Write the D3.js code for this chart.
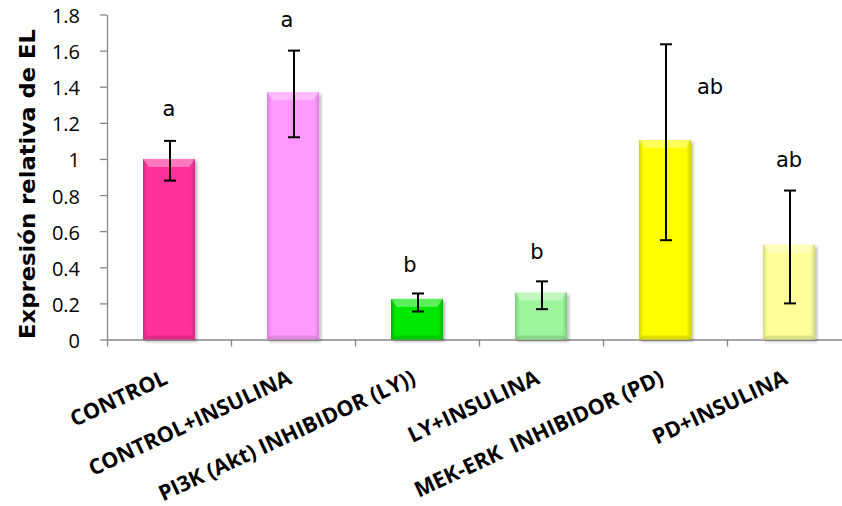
<!DOCTYPE html>
<html>
<head>
<meta charset="utf-8">
<script src="https://cdn.jsdelivr.net/npm/d3@7"></script>
<style>
  html, body { margin: 0; padding: 0; background: #fff; }
  svg { display: block; }
</style>
</head>
<body>
<svg id="chart" width="842" height="506"></svg>
<script>
const categories = ["CONTROL", "CONTROL+INSULINA", "PI3K (Akt) INHIBIDOR (LY))", "LY+INSULINA", "MEK-ERK  INHIBIDOR (PD)", "PD+INSULINA"];
const values = [1.0, 1.37, 0.225, 0.26, 1.105, 0.525];
const errLow = [0.88, 1.12, 0.155, 0.168, 0.55, 0.2];
const errHigh = [1.1, 1.6, 0.255, 0.322, 1.635, 0.825];
const letters = ["a", "a", "b", "b", "ab", "ab"];
const colors = ["#FF3399", "#FF99FF", "#00E800", "#9EF59E", "#FFFF00", "#FFFF99"];
const edgeColors = ["#D62A82", "#DA82DA", "#00B400", "#7CCC7C", "#D4D400", "#D6D67E"];
const yTicks = [0, 0.2, 0.4, 0.6, 0.8, 1, 1.2, 1.4, 1.6, 1.8];
const yTitle = "Expresión relativa de EL";

const svg = d3.select("#chart");
const x0 = 107, x1 = 851, yTop = 14.5, yBot = 339.5;

const y = d3.scaleLinear().domain([0, 1.8]).range([yBot, yTop]);
const xb = d3.scaleBand().domain(categories).range([x0, x1]).paddingInner(0.58).paddingOuter(0.29);
const xEdge = d3.scaleLinear().domain([0, categories.length]).range([x0, x1]);

const defs = svg.append("defs");
const f = defs.append("filter").attr("id", "shadow").attr("x", "-20%").attr("y", "-20%").attr("width", "150%").attr("height", "150%");
f.append("feDropShadow").attr("dx", 2).attr("dy", 2).attr("stdDeviation", 1.5).attr("flood-color", "#000").attr("flood-opacity", 0.3);

categories.forEach((c, i) => {
  const g = defs.append("linearGradient").attr("id", "grad" + i).attr("x1", "0%").attr("x2", "100%").attr("y1", "0%").attr("y2", "0%");
  g.append("stop").attr("offset", "0%").attr("stop-color", edgeColors[i]);
  g.append("stop").attr("offset", "9%").attr("stop-color", colors[i]);
  g.append("stop").attr("offset", "91%").attr("stop-color", colors[i]);
  g.append("stop").attr("offset", "100%").attr("stop-color", edgeColors[i]);
});

// Y axis
const yAxis = d3.axisLeft(y).tickValues(yTicks).tickFormat(d => d3.format("")(+d.toFixed(1))).tickSizeInner(7).tickSizeOuter(0).tickPadding(20);
const gy = svg.append("g").attr("transform", `translate(${x0},0)`).call(yAxis);
gy.select(".domain").attr("stroke", "#888").attr("stroke-width", 1.3);
gy.selectAll(".tick line").attr("stroke", "#888").attr("stroke-width", 1.3);
gy.selectAll(".tick text").attr("font-family", "'Open Sans', sans-serif").attr("font-size", 20).attr("fill", "#000").attr("dy", "0.4em");

// X axis (ticks at category boundaries)
const xAxis = d3.axisBottom(xEdge).tickValues(d3.range(categories.length + 1)).tickFormat("").tickSizeInner(7).tickSizeOuter(0);
const gx = svg.append("g").attr("transform", `translate(0,${yBot})`).call(xAxis);
gx.select(".domain").attr("stroke", "#888").attr("stroke-width", 1.3);
gx.selectAll(".tick line").attr("stroke", "#888").attr("stroke-width", 1.3);

// Bars
const bars = svg.append("g");
categories.forEach((c, i) => {
  const bx = xb(c), bw = xb.bandwidth(), by = y(values[i]), bh = y(0) - y(values[i]);
  bars.append("rect").attr("x", bx).attr("y", by).attr("width", bw).attr("height", bh)
    .attr("fill", `url(#grad${i})`).attr("filter", "url(#shadow)");
  const bev = Math.min(8, bh / 3);
  bars.append("path")
    .attr("d", `M${bx},${by}L${bx + bw},${by}L${bx + bw - 6},${by + bev}L${bx + 6},${by + bev}Z`)
    .attr("fill", "#fff").attr("opacity", 0.35);
  bars.append("path")
    .attr("d", `M${bx},${by + bh}L${bx + bw},${by + bh}L${bx + bw - 4},${by + bh - 4}L${bx + 4},${by + bh - 4}Z`)
    .attr("fill", "#000").attr("opacity", 0.12);
});

// Error bars
const eg = svg.append("g").attr("stroke", "#000").attr("stroke-width", 2);
categories.forEach((c, i) => {
  const cx = xb(c) + xb.bandwidth() / 2 + 1;
  eg.append("line").attr("x1", cx).attr("x2", cx).attr("y1", y(errLow[i])).attr("y2", y(errHigh[i]));
  eg.append("line").attr("x1", cx - 6).attr("x2", cx + 6).attr("y1", y(errLow[i])).attr("y2", y(errLow[i]));
  eg.append("line").attr("x1", cx - 6).attr("x2", cx + 6).attr("y1", y(errHigh[i])).attr("y2", y(errHigh[i]));
});

// Significance letters
const letterPos = [[0, 1.24], [-6, 1.73], [-7, 0.375], [-4, 0.445], [45, 1.36], [0, 0.955]];
categories.forEach((c, i) => {
  svg.append("text")
    .attr("x", xb(c) + xb.bandwidth() / 2 + letterPos[i][0])
    .attr("y", y(letterPos[i][1]))
    .attr("text-anchor", "middle")
    .attr("font-family", "'DejaVu Sans', sans-serif")
    .attr("font-size", 21)
    .attr("fill", "#000")
    .text(letters[i]);
});

// Category labels
categories.forEach((c, i) => {
  svg.append("text")
    .attr("transform", `translate(${xb(c) + xb.bandwidth() / 2},383) rotate(-25)`)
    .attr("text-anchor", "end")
    .attr("font-family", "'Open Sans', sans-serif")
    .attr("font-weight", "bold")
    .attr("font-size", 21.5)
    .attr("fill", "#000")
    .style("white-space", "pre")
    .text(c);
});

// Y title
svg.append("text")
  .attr("transform", "translate(35,184) rotate(-90)")
  .attr("text-anchor", "middle")
  .attr("font-family", "'DejaVu Sans', sans-serif")
  .attr("font-weight", "bold")
  .attr("font-size", 22)
  .attr("textLength", 310)
  .attr("lengthAdjust", "spacingAndGlyphs")
  .attr("fill", "#000")
  .text(yTitle);
</script>
</body>
</html>
